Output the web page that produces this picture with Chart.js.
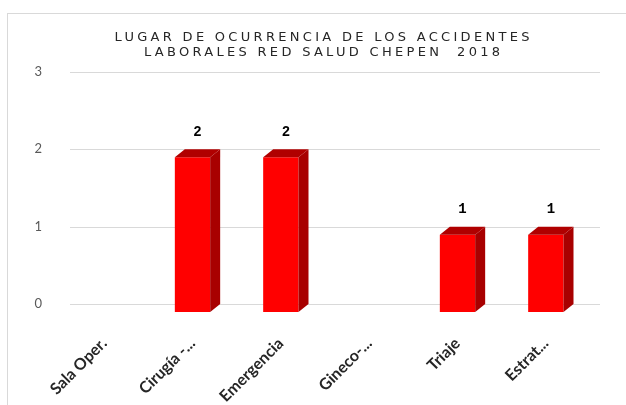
<!DOCTYPE html>
<html>
<head>
<meta charset="utf-8">
<script src="https://cdn.jsdelivr.net/npm/chart.js@4/dist/chart.umd.min.js"></script>
<style>
    html, body { margin: 0; padding: 0; background: #fff; overflow: hidden; }
    #wrap { position: relative; width: 626px; height: 405px; }
    #frame {
        position: absolute; left: 7px; top: 13px; right: -10px; bottom: -10px;
        border: 1px solid #d9d9d9; pointer-events: none;
    }
</style>
</head>
<body>
<div id="wrap">
    <canvas id="lugarChart" width="626" height="405"></canvas>
    <div id="frame"></div>
</div>
<script>
const categories = ["Sala Oper.", "Cirugía -...", "Emergencia", "Gineco-...", "Triaje", "Estrat..."];
const accidentes = [0, 2, 2, 0, 1, 1];
const yTicks = [0, 1, 2, 3];
const titleLines = ["LUGAR DE OCURRENCIA DE LOS ACCIDENTES", "LABORALES RED SALUD CHEPEN  2018"];

// profundidad del efecto 3D
const DEPTH_X = 10;
const DEPTH_Y = -8;
const TITLE_SPACING = 3.3;

// lineas de la cuadricula dibujadas al fondo (desplazadas por la profundidad)
const backGrid = {
    id: "backGrid",
    beforeDatasetsDraw(chart) {
        const { ctx, chartArea, scales } = chart;
        ctx.save();
        ctx.strokeStyle = "#d9d9d9";
        ctx.lineWidth = 1;
        yTicks.forEach((v) => {
            const y = Math.round(scales.y.getPixelForValue(v) + DEPTH_Y) + 0.5;
            ctx.beginPath();
            ctx.moveTo(chartArea.left + DEPTH_X, y);
            ctx.lineTo(chartArea.right + DEPTH_X, y);
            ctx.stroke();
        });
        ctx.restore();
    },
};

// caras lateral y superior de cada barra + etiqueta de valor
const bars3d = {
    id: "bars3d",
    afterDatasetsDraw(chart) {
        const { ctx } = chart;
        const meta = chart.getDatasetMeta(0);
        ctx.save();
        meta.data.forEach((bar, i) => {
            if (!accidentes[i]) return;
            const p = bar.getProps(["x", "y", "base", "width"], true);
            const left = p.x - p.width / 2;
            const right = p.x + p.width / 2;

            // lateral
            ctx.fillStyle = "#a80000";
            ctx.beginPath();
            ctx.moveTo(right, p.y);
            ctx.lineTo(right + DEPTH_X, p.y + DEPTH_Y);
            ctx.lineTo(right + DEPTH_X, p.base + DEPTH_Y);
            ctx.lineTo(right, p.base);
            ctx.closePath();
            ctx.fill();

            // superior
            ctx.fillStyle = "#b00000";
            ctx.beginPath();
            ctx.moveTo(left, p.y);
            ctx.lineTo(left + DEPTH_X, p.y + DEPTH_Y);
            ctx.lineTo(right + DEPTH_X, p.y + DEPTH_Y);
            ctx.lineTo(right, p.y);
            ctx.closePath();
            ctx.fill();

            // valor
            ctx.fillStyle = "#000";
            ctx.font = "bold 14px 'Liberation Mono'";
            ctx.textAlign = "center";
            ctx.textBaseline = "middle";
            ctx.fillText(String(accidentes[i]), p.x + DEPTH_X / 2, p.y + DEPTH_Y - 17);
        });
        ctx.restore();
    },
};

// espaciado de letras en el titulo, centrado sobre el grafico completo
const titleSpacing = {
    id: "titleSpacing",
    afterInit(chart) {
        const t = chart.titleBlock;
        if (!t) return;
        const draw = t.draw.bind(t);
        t.draw = (area) => {
            const ctx = chart.ctx;
            ctx.save();
            ctx.letterSpacing = TITLE_SPACING + "px";
            const shift = chart.width / 2 - (t.left + t.right) / 2 + 9 + TITLE_SPACING / 2;
            ctx.translate(shift, 1);
            draw(area);
            ctx.restore();
        };
    },
};

new Chart(document.getElementById("lugarChart").getContext("2d"), {
    type: "bar",
    data: {
        labels: categories,
        datasets: [
            {
                label: "Accidentes",
                data: accidentes,
                backgroundColor: "#ff0000",
                borderWidth: 0,
                barPercentage: 0.4,
                categoryPercentage: 1,
            },
        ],
    },
    options: {
        responsive: false,
        animation: false,
        events: [],
        layout: { padding: { left: 0, right: 36, top: 0, bottom: 0 } },
        scales: {
            x: {
                grid: { display: false, drawTicks: false },
                border: { display: false },
                ticks: {
                    minRotation: 45,
                    maxRotation: 45,
                    padding: 22,
                    color: "#262626",
                    font: { family: "Lato", size: 16, weight: "bold" },
                },
                afterFit(scale) { scale.height = 93; },
            },
            y: {
                min: 0,
                max: 3,
                grid: { display: false, drawTicks: false },
                border: { display: false },
                ticks: {
                    stepSize: 1,
                    padding: 18,
                    labelOffset: DEPTH_Y,
                    color: "#595959",
                    font: { family: "Lato", size: 13 },
                },
                afterFit(scale) { scale.width = 60; },
            },
        },
        plugins: {
            legend: { display: false },
            tooltip: { enabled: false },
            title: {
                display: true,
                text: titleLines,
                color: "#262626",
                font: { family: "DejaVu Sans", size: 13, weight: "normal", lineHeight: 1.15 },
                padding: { top: 29, bottom: 21 },
            },
        },
    },
    plugins: [backGrid, bars3d, titleSpacing],
});
</script>
</body>
</html>
